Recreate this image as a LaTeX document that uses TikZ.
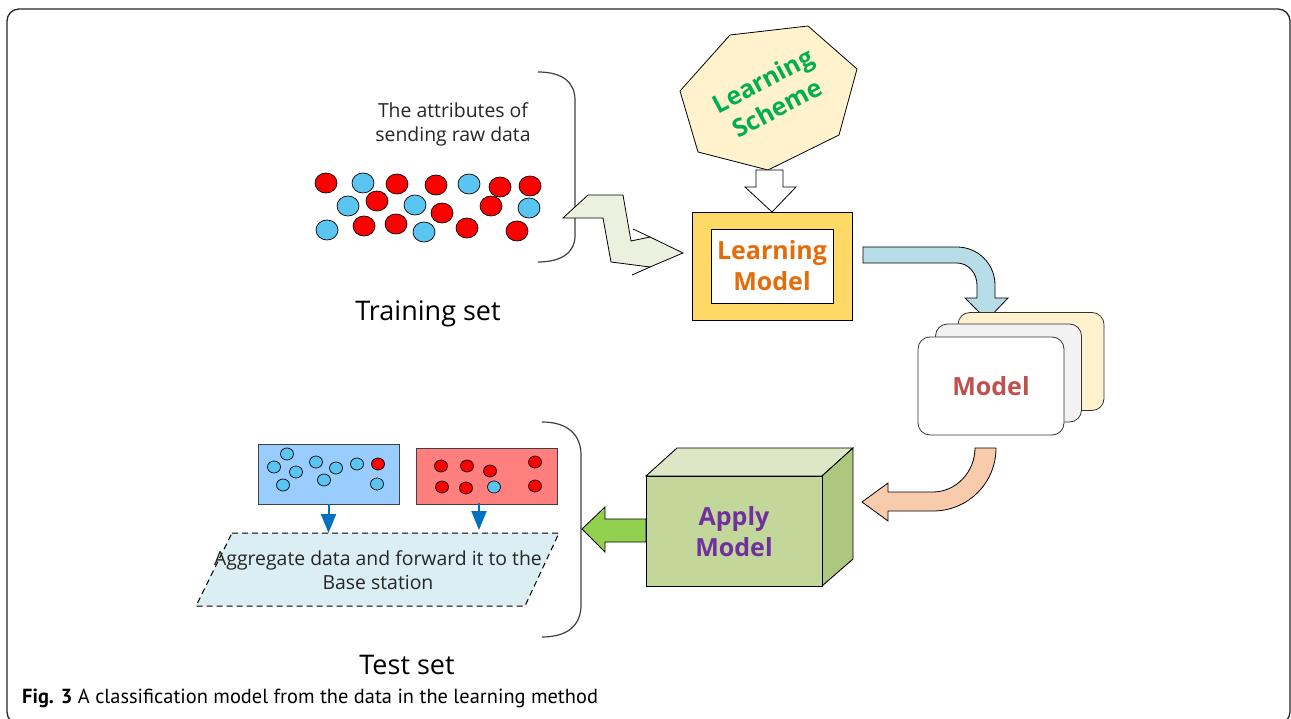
\documentclass[tikz,border=0pt]{standalone}
\usepackage{fontspec}
\setmainfont{Open Sans}
\newfontfamily\capfont{PT Sans}
\usetikzlibrary{arrows.meta}
\definecolor{dotred}{HTML}{FF0000}
\definecolor{dotblue}{HTML}{5BC5F2}
\definecolor{gold}{HTML}{FFD966}
\definecolor{lmorange}{HTML}{E46C0A}
\definecolor{schemefill}{HTML}{FFF2CC}
\definecolor{schemegreen}{HTML}{00B050}
\definecolor{arrowblue}{HTML}{B7DEE8}
\definecolor{cardgray}{HTML}{F2F2F2}
\definecolor{modelred}{HTML}{C0504D}
\definecolor{peach}{HTML}{F8CBAD}
\definecolor{cubefront}{HTML}{C4D79B}
\definecolor{cubetop}{HTML}{DDE7C6}
\definecolor{cuberight}{HTML}{AEC77E}
\definecolor{applypurple}{HTML}{7030A0}
\definecolor{arrowgreen}{HTML}{92D050}
\definecolor{boxblue}{HTML}{99CCFF}
\definecolor{boxred}{HTML}{FF7F7F}
\definecolor{downblue}{HTML}{0070C0}
\definecolor{paraf}{HTML}{DAEEF3}
\definecolor{zigfill}{HTML}{EBF1DE}
\definecolor{bracegray}{HTML}{3F3F3F}
\begin{document}
\begin{tikzpicture}[x=1pt,y=-1pt,line join=miter,
  rdot/.style={draw=black,fill=dotred,line width=0.7pt},
  bdot/.style={draw=black,fill=dotblue,line width=0.7pt},
  blockarrow/.style={draw=black,line width=0.8pt,line join=miter},
  bracestyle/.style={draw=bracegray,line width=1.2pt},
  plaintext/.style={font=\fontsize{19.4}{24}\selectfont,align=center,text=black!85},
  settext/.style={font=\fontsize{27}{32}\selectfont,text=black},
  boldlabel/.style={font=\bfseries\fontsize{25}{31}\selectfont,align=center},
  card/.style={draw=black!80,line width=0.8pt,rounded corners=12pt,minimum width=146pt,minimum height=98pt},
  testbox/.style={draw=black!75,line width=0.8pt},
  downarrow/.style={draw=downblue,line width=2pt,-{Triangle[width=15pt,length=19pt]}}
]
\useasboundingbox (0,0) rectangle (1291,719);
% frame
\draw[line width=1.3pt,draw=black!85,rounded corners=12pt] (7,9) rectangle (1290,724);

% ---------- Training set ----------
\draw[bracestyle] (538,72) .. controls (562,72) and (575,82) .. (575,100) -- (575,236) .. controls (575,252) and (562,262) .. (538,262);
\node[plaintext] (attr) at (453,124) {The attributes of\\sending raw data};
\foreach \x/\y in {326/183,397/184,436/185,500/187,530/186,377/201,442/213,491/206,364/226,396/224,467/228,517/231}
  \draw[rdot] (\x,\y) ellipse [x radius=11, y radius=10];
\foreach \x/\y in {363/183,469/184,348/206,415/205,529/208,327/230,424/232}
  \draw[bdot] (\x,\y) ellipse [x radius=11, y radius=10];
\node[settext] (train) at (428,314) {Training set};

% zigzag arrow
\draw[blockarrow,fill=zigfill] (563,218) -- (588,195) -- (623,195) -- (631,241) -- (650,237) -- (683,253) -- (650,267) -- (611,262) -- (603,218) -- cycle;
\draw[blockarrow] (633,229) -- (650,237);
\draw[blockarrow] (632,275) -- (650,267);

% ---------- Learning scheme ----------
\draw[line width=0.8pt,fill=schemefill] (730,35) -- (808,26) -- (857,69) -- (839,135) -- (768,170) -- (698,152) -- (680,91) -- cycle;
\node[boldlabel,text=schemegreen,rotate=28] (scheme) at (770,94) {Learning\\Scheme};

% hollow arrow
\draw[blockarrow,fill=white] (756,170) -- (783,170) -- (783,187) -- (796,187) -- (772,212) -- (745,187) -- (756,187) -- cycle;

% ---------- Learning model ----------
\node[draw=black,line width=0.9pt,fill=gold,minimum width=160pt,minimum height=108pt] (lmouter) at (772,266) {};
\node[draw=black,line width=0.9pt,fill=white,minimum width=122pt,minimum height=74pt,boldlabel,text=lmorange] (lm) at (772,266) {Learning\\Model};

% blue curved arrow
\draw[blockarrow,fill=arrowblue] (863,247) -- (957,247) .. controls (978,247) and (995,264) .. (995,285) -- (995,298) -- (1008,298) -- (987,320) -- (965,298) -- (977,298) -- (977,285) .. controls (977,273) and (968,263) .. (957,263) -- (863,263) -- cycle;

% ---------- Model cards ----------
\node[card,fill=schemefill] (cardback) at (1031,361.5) {};
\node[card,fill=cardgray] (cardmid) at (1008.5,373) {};
\node[card,fill=white,boldlabel,text=modelred] (model) at (991,386) {Model};

% peach curved arrow
\draw[blockarrow,fill=peach] (975,448) -- (996,448) .. controls (996,483) and (968,511) .. (933,511) -- (888,511) -- (888,521) -- (862,502) -- (888,483) -- (888,492) -- (933,492) .. controls (956,492) and (975,472) .. (975,448) -- cycle;

% ---------- Apply model cube ----------
\draw[blockarrow,fill=arrowgreen] (646,519) -- (605,519) -- (605,507) -- (582,529) -- (605,552) -- (605,542) -- (646,542) -- cycle;
\draw[line width=0.9pt,fill=cubetop] (646,476) -- (677,448) -- (853,448) -- (822,476) -- cycle;
\draw[line width=0.9pt,fill=cuberight] (822,476) -- (853,448) -- (853,559) -- (822,586) -- cycle;
\draw[line width=0.9pt,fill=cubefront] (646,476) rectangle (822,586);
\node[boldlabel,text=applypurple] (apply) at (734,532) {Apply\\Model};

% ---------- Test set ----------
\draw[bracestyle] (542,422) .. controls (568,422) and (581,435) .. (581,455) -- (581,605) .. controls (581,625) and (568,637) .. (542,637);

\draw[dashed,dash pattern=on 6pt off 4pt,line width=1pt,draw=black,fill=paraf] (232,533) -- (559,533) -- (525,606) -- (196,606) -- cycle;
\coordinate (aggtop) at (378,533);
\node[plaintext] (agg) at (378,570) {Aggregate data and forward it to the\\Base station};

\node[testbox,fill=boxblue,minimum width=141pt,minimum height=60pt] (bbox) at (328.5,474) {};
\node[testbox,fill=boxred,minimum width=141pt,minimum height=56pt] (rbox) at (486.5,476) {};
\foreach \x/\y in {287/454,274/467,296/472,283/485,316/462,336/468,324/480,357/464,377/484,494/487}
  \draw[bdot] (\x,\y) ellipse [x radius=6.5, y radius=6];
\foreach \x/\y in {378/464,441/466,467/466,490/471,535/462,442/487,466/488,535/486}
  \draw[rdot] (\x,\y) ellipse [x radius=6.5, y radius=6];

\draw[downarrow] (bbox.south) -- (bbox.south |- aggtop);
\coordinate (rfrom) at (479,503);
\draw[downarrow] (rfrom) -- (479,530);

\node[settext] (test) at (407,665) {Test set};

% caption
\node[anchor=west,font=\capfont\fontsize{20.4}{23}\selectfont,inner sep=0pt] (caption) at (22,698) {\textbf{Fig. 3} A classification model from the data in the learning method};
\end{tikzpicture}
\end{document}
